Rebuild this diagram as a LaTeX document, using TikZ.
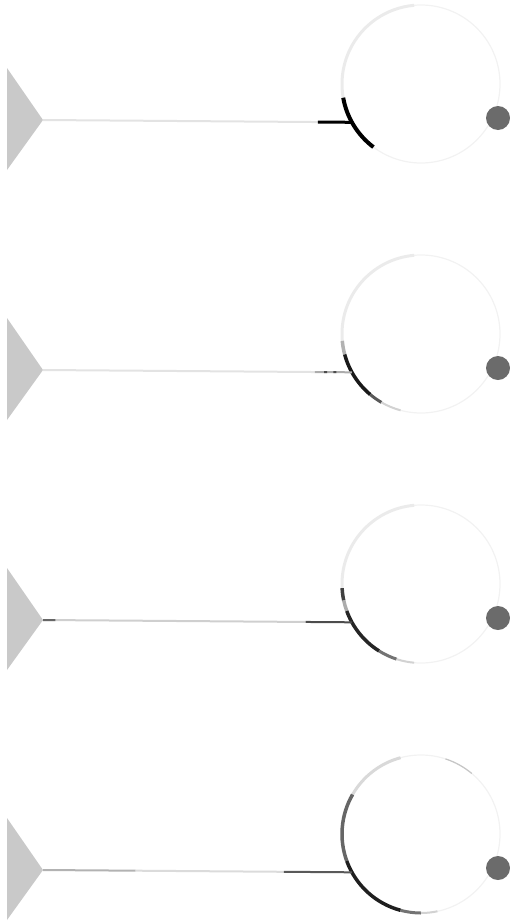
\documentclass[tikz,border=0pt]{standalone}
\usetikzlibrary{calc}
\begin{document}
\begin{tikzpicture}[
    x=1pt, y=1pt,
    cone/.style={fill=gray!42},
    soma/.style={circle, draw=gray!10, line width=1.2pt, minimum size=158pt, inner sep=0pt, outer sep=0pt},
    spot/.style={circle, fill=black!58, minimum size=24pt, inner sep=0pt},
    axon/.style={line width=2pt, gray!22},
    rim/.style={line width=3.5pt},
    halo/.style={line width=3pt, gray!16}
]
    \useasboundingbox (0,0) rectangle (509,-924);

    % Panel 1
    \begin{scope}
        \coordinate (tip1) at (43,-120);
        \fill[cone] (7,-68) -- (7,-170) -- (tip1) -- cycle;
        \node[soma] (soma1) at (421,-84) {};
        \node[spot] (spot1) at (498,-118) {};
        \draw[halo] (soma1.95) arc[start angle=95, end angle=190, radius=79pt];
        \draw[rim, black, line width=4pt] (soma1.190) arc[start angle=190, end angle=233, radius=79pt];
        \draw[axon] (tip1) -- ($(tip1)!0.89!(soma1.209)$) coordinate (knee1);
        \draw[axon, black, line width=3pt] (knee1) -- (soma1.209);
    \end{scope}

    % Panel 2
    \begin{scope}[yshift=-250pt]
        \coordinate (tip2) at (43,-120);
        \fill[cone] (7,-68) -- (7,-170) -- (tip2) -- cycle;
        \node[soma] (soma2) at (421,-84) {};
        \node[spot] (spot2) at (498,-118) {};
        \draw[halo] (soma2.95) arc[start angle=95, end angle=185, radius=79pt];
        \draw[rim, gray!60] (soma2.185) arc[start angle=185, end angle=195, radius=79pt];
        \draw[rim, black!90] (soma2.195) arc[start angle=195, end angle=230, radius=79pt];
        \draw[rim, black!65, line width=3pt] (soma2.230) arc[start angle=230, end angle=240, radius=79pt];
        \draw[rim, gray!35, line width=2pt] (soma2.240) arc[start angle=240, end angle=255, radius=79pt];
        \draw[axon] (tip2) -- ($(tip2)!0.88!(soma2.209)$) coordinate (knee2);
        \draw[axon, gray!65] (knee2) -- (soma2.209);
        \draw[axon, black!70] ($(tip2)!0.91!(soma2.209)$) -- ($(tip2)!0.92!(soma2.209)$);
        \draw[axon, black!70] ($(tip2)!0.94!(soma2.209)$) -- ($(tip2)!0.95!(soma2.209)$);
    \end{scope}

    % Panel 3
    \begin{scope}[yshift=-500pt]
        \coordinate (tip3) at (43,-120);
        \fill[cone] (7,-68) -- (7,-170) -- (tip3) -- cycle;
        \node[soma] (soma3) at (421,-84) {};
        \node[spot] (spot3) at (498,-118) {};
        \draw[halo] (soma3.95) arc[start angle=95, end angle=183, radius=79pt];
        \draw[rim, black!75] (soma3.183) arc[start angle=183, end angle=192, radius=79pt];
        \draw[rim, gray!65] (soma3.192) arc[start angle=192, end angle=200, radius=79pt];
        \draw[rim, black!85] (soma3.200) arc[start angle=200, end angle=238, radius=79pt];
        \draw[rim, black!55, line width=3pt] (soma3.238) arc[start angle=238, end angle=252, radius=79pt];
        \draw[rim, gray!35, line width=2pt] (soma3.252) arc[start angle=252, end angle=265, radius=79pt];
        \draw[axon, gray!38] (tip3) -- ($(tip3)!0.85!(soma3.209)$) coordinate (knee3);
        \draw[axon, black!70] (knee3) -- (soma3.209);
        \draw[axon, black!60] (tip3) -- ($(tip3)!0.04!(soma3.209)$);
    \end{scope}

    % Panel 4
    \begin{scope}[yshift=-750pt]
        \coordinate (tip4) at (43,-120);
        \fill[cone] (7,-68) -- (7,-170) -- (tip4) -- cycle;
        \node[soma] (soma4) at (421,-84) {};
        \node[spot] (spot4) at (498,-118) {};
        \draw[rim, gray!45, line width=1.2pt] (soma4.50) arc[start angle=50, end angle=72, radius=79pt];
        \draw[halo, gray!30] (soma4.105) arc[start angle=105, end angle=150, radius=79pt];
        \draw[rim, black!60] (soma4.150) arc[start angle=150, end angle=200, radius=79pt];
        \draw[rim, black!88] (soma4.200) arc[start angle=200, end angle=255, radius=79pt];
        \draw[rim, black!55, line width=3pt] (soma4.255) arc[start angle=255, end angle=270, radius=79pt];
        \draw[rim, gray!35, line width=2pt] (soma4.270) arc[start angle=270, end angle=282, radius=79pt];
        \draw[axon, gray!60] (tip4) -- ($(tip4)!0.3!(soma4.209)$) coordinate (elbow4);
        \draw[axon, gray!28] (elbow4) -- ($(tip4)!0.78!(soma4.209)$) coordinate (knee4);
        \draw[axon, black!65] (knee4) -- (soma4.209);
    \end{scope}
\end{tikzpicture}
\end{document}
